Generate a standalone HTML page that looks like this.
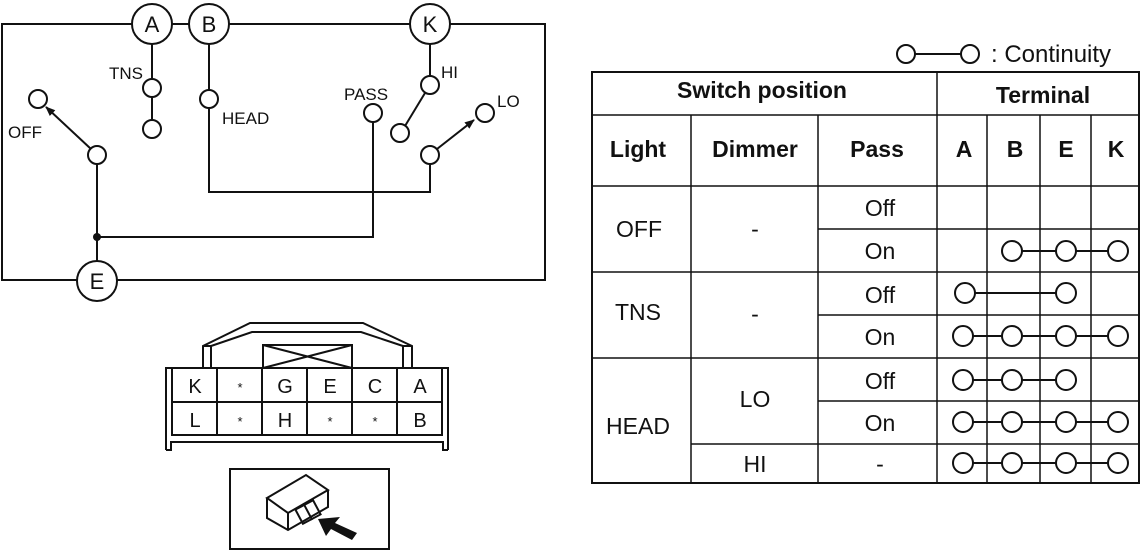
<!DOCTYPE html>
<html><head><meta charset="utf-8"><style>
html,body{margin:0;padding:0;background:#fff;}
svg{display:block;}
text{font-family:"Liberation Sans",Arial,sans-serif;fill:#111;}
</style></head><body>
<svg width="1142" height="550" viewBox="0 0 1142 550" xmlns="http://www.w3.org/2000/svg">
<defs><marker id="ah" markerWidth="10" markerHeight="8" refX="9" refY="4" orient="auto" markerUnits="userSpaceOnUse"><path d="M0,0 L10,4 L0,8 z" fill="#111"/></marker></defs>
<g stroke="#111" stroke-width="2" fill="none">
<rect x="2" y="24" width="543" height="256"/>
<line x1="152" y1="44" x2="152" y2="79"/>
<line x1="152" y1="97" x2="152" y2="120"/>
<circle cx="152" cy="88" r="9" fill="#fff"/>
<circle cx="152" cy="129" r="9" fill="#fff"/>
<line x1="209" y1="44" x2="209" y2="90"/>
<circle cx="209" cy="99" r="9" fill="#fff"/>
<polyline points="209,108 209,192 430,192 430,164"/>
<circle cx="373" cy="113" r="9" fill="#fff"/>
<polyline points="373,122 373,237 97,237"/>
<line x1="430" y1="44" x2="430" y2="76"/>
<circle cx="430" cy="85" r="9" fill="#fff"/>
<line x1="425" y1="93" x2="405" y2="126"/>
<circle cx="400" cy="133" r="9" fill="#fff"/>
<circle cx="430" cy="155" r="9" fill="#fff"/>
<line x1="437" y1="149" x2="474" y2="120" marker-end="url(#ah)"/>
<circle cx="485" cy="113" r="9" fill="#fff"/>
<circle cx="38" cy="99" r="9" fill="#fff"/>
<line x1="91" y1="149" x2="46" y2="107" marker-end="url(#ah)"/>
<circle cx="97" cy="155" r="9" fill="#fff"/>
<line x1="97" y1="164" x2="97" y2="261"/>
<circle cx="152" cy="24" r="20" fill="#fff"/>
<circle cx="209" cy="24" r="20" fill="#fff"/>
<circle cx="430" cy="24" r="20" fill="#fff"/>
<circle cx="97" cy="281" r="20" fill="#fff"/>
</g>
<circle cx="97" cy="237" r="4" fill="#111"/>
<g font-size="22" text-anchor="middle">
<text x="152" y="32">A</text><text x="209" y="32">B</text><text x="430" y="32">K</text><text x="97" y="289">E</text>
</g>
<g font-size="17">
<text x="109" y="79">TNS</text>
<text x="222" y="124">HEAD</text>
<text x="344" y="100">PASS</text>
<text x="441" y="78">HI</text>
<text x="497" y="107">LO</text>
<text x="8" y="138">OFF</text>
</g>

<g stroke="#111" stroke-width="2" fill="none">
<polyline points="203,368 203,346 250,323 363,323 412,346 412,368"/>
<polyline points="211,368 211,346 252,332 361,332 403,346 403,368"/>
<line x1="203" y1="346" x2="211" y2="346"/><line x1="403" y1="346" x2="412" y2="346"/>
<rect x="263" y="345" width="89" height="23"/>
<line x1="263" y1="345" x2="352" y2="368"/><line x1="352" y1="345" x2="263" y2="368"/>
<polyline points="166,450 166,368 448,368 448,450"/>
<polyline points="166,450 171,450 171,442 443,442 443,450 448,450"/>
<rect x="172" y="368" width="270" height="67"/>
<line x1="172" y1="402" x2="442" y2="402"/>
<line x1="217" y1="368" x2="217" y2="435"/><line x1="262" y1="368" x2="262" y2="435"/>
<line x1="307" y1="368" x2="307" y2="435"/><line x1="352" y1="368" x2="352" y2="435"/>
<line x1="397" y1="368" x2="397" y2="435"/>
<rect x="230" y="469" width="159" height="80"/>
<path d="M267,498 L306,475 L328,490 L288,513 Z"/>
<path d="M267,498 L267,518 L288,530 L328,507 L328,490 M288,513 L288,530"/>
<rect x="298" y="504" width="20" height="16" transform="rotate(-28 308 512)"/>
<line x1="308" y1="502" x2="308" y2="521" transform="rotate(-28 308 512)"/>
</g>
<path d="M318,519 L340,517 L335,523 L357,533 L352,540 L331,529 L326,536 Z" fill="#111"/>
<g font-size="20" text-anchor="middle">
<text x="195" y="393">K</text><text x="240" y="392" font-size="13">*</text><text x="285" y="393">G</text><text x="330" y="393">E</text><text x="375" y="393">C</text><text x="420" y="393">A</text>
<text x="195" y="427">L</text><text x="240" y="426" font-size="13">*</text><text x="285" y="427">H</text><text x="330" y="426" font-size="13">*</text><text x="375" y="426" font-size="13">*</text><text x="420" y="427">B</text>
</g>

<g stroke="#111" stroke-width="2" fill="none">
<line x1="906" y1="54" x2="970" y2="54"/>
<circle cx="906" cy="54" r="9" fill="#fff"/><circle cx="970" cy="54" r="9" fill="#fff"/>
</g>
<text x="991" y="62" font-size="24">: Continuity</text>

<g stroke="#111" fill="none">
<rect x="592" y="72" width="547" height="411" stroke-width="2"/>
<g stroke-width="1.5">
<line x1="592" y1="115" x2="1139" y2="115"/>
<line x1="937" y1="72" x2="937" y2="483"/>
<line x1="691" y1="115" x2="691" y2="483"/>
<line x1="818" y1="115" x2="818" y2="483"/>
<line x1="987" y1="115" x2="987" y2="483"/>
<line x1="1040" y1="115" x2="1040" y2="483"/>
<line x1="1091" y1="115" x2="1091" y2="483"/>
<line x1="592" y1="186" x2="1139" y2="186"/>
<line x1="818" y1="229" x2="1139" y2="229"/>
<line x1="592" y1="272" x2="1139" y2="272"/>
<line x1="818" y1="315" x2="1139" y2="315"/>
<line x1="592" y1="358" x2="1139" y2="358"/>
<line x1="818" y1="401" x2="1139" y2="401"/>
<line x1="691" y1="444" x2="1139" y2="444"/>
</g>
</g>
<g font-size="23" font-weight="bold" text-anchor="middle">
<text x="762" y="98">Switch position</text>
<text x="1043" y="103">Terminal</text>
<text x="638" y="157">Light</text>
<text x="755" y="157">Dimmer</text>
<text x="877" y="157">Pass</text>
<text x="964" y="157">A</text><text x="1015" y="157">B</text><text x="1066" y="157">E</text><text x="1116" y="157">K</text>
</g>
<g font-size="23" text-anchor="middle">
<text x="639" y="237">OFF</text><text x="755" y="237">-</text>
<text x="880" y="216">Off</text><text x="880" y="259">On</text>
<text x="638" y="320">TNS</text><text x="755" y="322">-</text>
<text x="880" y="303">Off</text><text x="880" y="345">On</text>
<text x="638" y="434">HEAD</text><text x="755" y="407">LO</text><text x="755" y="472">HI</text>
<text x="880" y="389">Off</text><text x="880" y="431">On</text><text x="880" y="472">-</text>
</g>
<g stroke="#111" stroke-width="2" fill="#fff">
<line x1="1012" y1="251" x2="1118" y2="251"/>
<circle cx="1012" cy="251" r="10"/><circle cx="1066" cy="251" r="10"/><circle cx="1118" cy="251" r="10"/>
<line x1="965" y1="293" x2="1066" y2="293"/>
<circle cx="965" cy="293" r="10"/><circle cx="1066" cy="293" r="10"/>
<line x1="963" y1="336" x2="1118" y2="336"/>
<circle cx="963" cy="336" r="10"/><circle cx="1012" cy="336" r="10"/><circle cx="1066" cy="336" r="10"/><circle cx="1118" cy="336" r="10"/>
<line x1="963" y1="380" x2="1066" y2="380"/>
<circle cx="963" cy="380" r="10"/><circle cx="1012" cy="380" r="10"/><circle cx="1066" cy="380" r="10"/>
<line x1="963" y1="422" x2="1118" y2="422"/>
<circle cx="963" cy="422" r="10"/><circle cx="1012" cy="422" r="10"/><circle cx="1066" cy="422" r="10"/><circle cx="1118" cy="422" r="10"/>
<line x1="963" y1="463" x2="1118" y2="463"/>
<circle cx="963" cy="463" r="10"/><circle cx="1012" cy="463" r="10"/><circle cx="1066" cy="463" r="10"/><circle cx="1118" cy="463" r="10"/>
</g>
</svg>
</body></html>
